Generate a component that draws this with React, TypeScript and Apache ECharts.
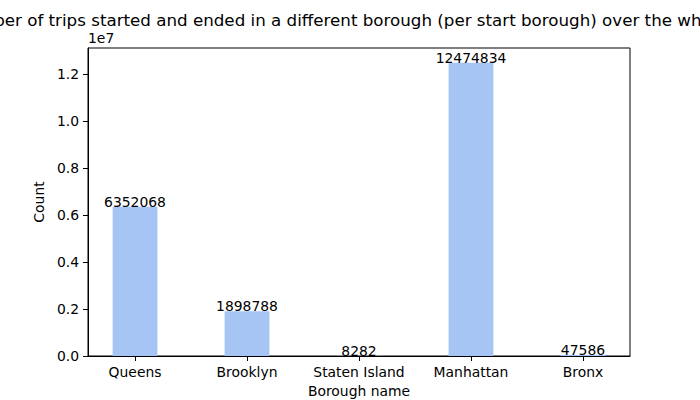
import React, { useEffect, useRef } from "react";
import * as echarts from "echarts";

const categories = ["Queens", "Brooklyn", "Staten Island", "Manhattan", "Bronx"];
const counts = [6352068, 1898788, 8282, 12474834, 47586];
const yTicks = [0, 2000000, 4000000, 6000000, 8000000, 10000000, 12000000];
const titleText =
  "Number of trips started and ended in a different borough (per start borough) over the whole year";

export default function App() {
  const ref = useRef<HTMLDivElement>(null);
  useEffect(() => {
    if (!ref.current) return;
    const chart = echarts.init(ref.current, null, { renderer: "svg" });
    const font = "DejaVu Sans";
    const yMax = Math.max(...counts) * 1.05;
    chart.setOption({
      animation: false,
      textStyle: { fontFamily: font, color: "#000" },
      title: {
        text: titleText,
        left: 357,
        top: 6,
        textAlign: "center",
        textStyle: { fontFamily: font, fontSize: 16.7, fontWeight: "normal", color: "#000" },
      },
      grid: {
        left: 88,
        right: 70,
        top: 48,
        bottom: 44,
        show: true,
        borderColor: "#000",
        borderWidth: 1,
        backgroundColor: "transparent",
        containLabel: false,
        outerBoundsMode: "none",
      },
      graphic: [
        {
          type: "text",
          left: 88,
          top: 31,
          style: { text: "1e7", font: `13.9px "${font}"`, fill: "#000" },
        },
      ],
      xAxis: {
        type: "value",
        min: -0.42,
        max: 4.42,
        name: "Borough name",
        nameLocation: "middle",
        nameGap: 28,
        nameTextStyle: { fontFamily: font, fontSize: 13.9, color: "#000" },
        axisLine: { show: true, onZero: false, lineStyle: { color: "#000", width: 1 } },
        axisTick: { show: true, length: 5, lineStyle: { color: "#000" }, customValues: [0, 1, 2, 3, 4] },
        axisLabel: {
          customValues: [0, 1, 2, 3, 4],
          formatter: (v: number) => categories[Math.round(v)] ?? "",
          fontFamily: font,
          fontSize: 13.9,
          color: "#000",
          margin: 9,
        },
        splitLine: { show: false },
      },
      yAxis: {
        type: "value",
        min: 0,
        max: yMax,
        interval: 2000000,
        name: "Count",
        nameLocation: "middle",
        nameGap: 38,
        nameTextStyle: { fontFamily: font, fontSize: 13.9, color: "#000" },
        axisLine: { show: true, onZero: false, lineStyle: { color: "#000", width: 1 } },
        axisTick: { show: true, length: 5, lineStyle: { color: "#000" }, customValues: yTicks },
        axisLabel: {
          customValues: yTicks,
          formatter: (v: number) => (v / 1e7).toFixed(1),
          fontFamily: font,
          fontSize: 13.9,
          color: "#000",
          margin: 9,
        },
        splitLine: { show: false },
      },
      series: [
        {
          type: "bar",
          barWidth: 44.8,
          data: counts.map((c, i) => [i, c]),
          itemStyle: { color: "#a6c4f4" },
          label: {
            show: true,
            position: "top",
            distance: -2,
            formatter: (p: any) => String(p.value[1]),
            fontFamily: font,
            fontSize: 13.9,
            color: "#000",
          },
        },
      ],
    });
    return () => chart.dispose();
  }, []);
  return <div ref={ref} style={{ width: 700, height: 400, position: "absolute", left: 0, top: 0 }} />;
}
